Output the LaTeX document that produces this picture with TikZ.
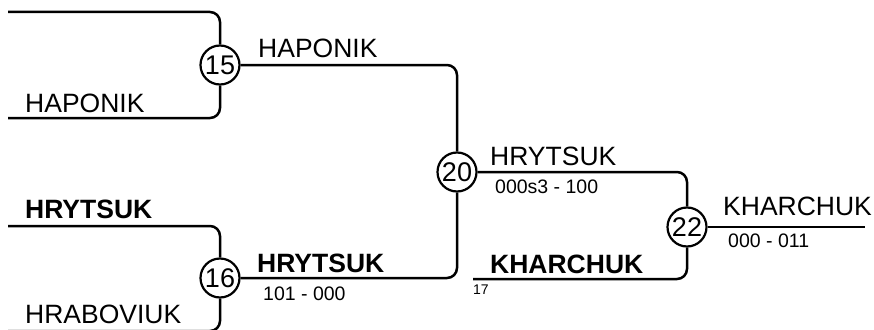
\documentclass[tikz,border=0pt]{standalone}
\usepackage{fontspec}
\setmainfont{Liberation Sans}
\usetikzlibrary{calc}

\begin{document}
\begin{tikzpicture}[x=1pt, y=-1pt, line join=round, line cap=butt,
    bracket/.style={line width=2.5pt, rounded corners=10pt},
    match/.style={circle, draw, line width=2.2pt, minimum size=39pt, inner sep=0pt, fill=white, font=\fontsize{27}{28}\selectfont},
    player/.style={anchor=base west, inner sep=0pt, font=\fontsize{26.5}{30}\selectfont},
    winner/.style={player, font=\fontsize{26.5}{30}\selectfont\bfseries},
    score/.style={anchor=base west, inner sep=0pt, font=\fontsize{19.5}{22}\selectfont},
    seed/.style={anchor=base west, inner sep=0pt, font=\fontsize{14}{16}\selectfont}]
    \useasboundingbox (0,0) rectangle (874,329);

    \coordinate (A1) at (8,12);
    \coordinate (A2) at (8,118);
    \coordinate (B1) at (8,226);
    \coordinate (B2) at (8,331);
    \coordinate (K17) at (473,279);
    \coordinate (W) at (865,227);

    \node[match] (m15) at (220,65) {15};
    \node[match] (m16) at (220,278) {16};
    \node[match] (m20) at (457,172) {20};
    \node[match] (m22) at (687,227) {22};

    % first round
    \draw[bracket] (A1) -| (m15);
    \draw[bracket] (A2) -| (m15);
    \draw[bracket] (B1) -| (m16);
    \draw[bracket] (B2) -| (m16);

    % later rounds
    \draw[bracket] (m15) -| (m20);
    \draw[bracket] (m16) -| (m20);
    \draw[bracket] (m20) -| (m22);
    \draw[bracket] (K17) -| (m22);
    \draw[bracket] (m22) -- (W);

    \node[player] (nA2) at (25,112) {HAPONIK};
    \node[winner] (nB1) at (25,218) {HRYTSUK};
    \node[player] (nB2) at (25,323) {HRABOVIUK};

    \node[player] (n15) at (258,57) {HAPONIK};
    \node[winner] (n16) at (257,272) {HRYTSUK};
    \node[score] (s16) at (263,300) {101 - 000};

    \node[player] (n20) at (490,165) {HRYTSUK};
    \node[score] (s20) at (495,193) {000s3 - 100};
    \node[winner] (nK) at (490,273) {KHARCHUK};
    \node[seed] (s17) at (473,294) {17};

    \node[player] (n22) at (723,215) {KHARCHUK};
    \node[score] (s22) at (728,247) {000 - 011};
\end{tikzpicture}
\end{document}
